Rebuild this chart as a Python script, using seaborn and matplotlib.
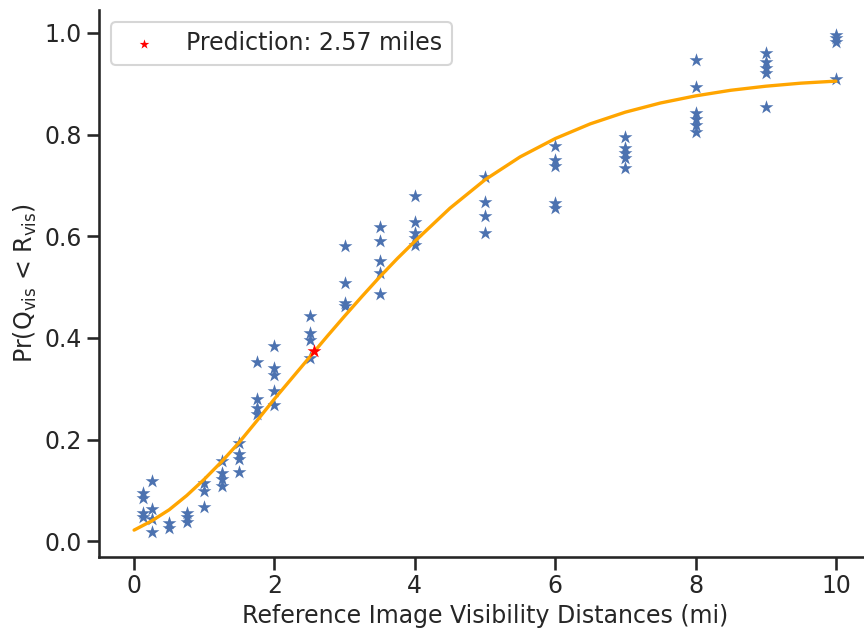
import numpy as np
import pandas as pd
import matplotlib
matplotlib.use("Agg")
import matplotlib.pyplot as plt
import seaborn as sns

# Observed probabilities per reference visibility distance (miles)
dist_0125 = [0.095, 0.085, 0.055, 0.048]
dist_025 = [0.118, 0.063, 0.043, 0.018]
dist_05 = [0.035, 0.027]
dist_075 = [0.055, 0.047, 0.038]
dist_1 = [0.115, 0.099, 0.067]
dist_125 = [0.158, 0.135, 0.122, 0.109]
dist_15 = [0.193, 0.171, 0.161, 0.136]
dist_175 = [0.352, 0.279, 0.263, 0.250]
dist_2 = [0.385, 0.341, 0.328, 0.295, 0.269]
dist_25 = [0.444, 0.410, 0.395, 0.361]
dist_3 = [0.580, 0.508, 0.469, 0.462]
dist_35 = [0.618, 0.591, 0.552, 0.528, 0.487]
dist_4 = [0.680, 0.627, 0.606, 0.597, 0.583]
dist_5 = [0.716, 0.667, 0.640, 0.606]
dist_6 = [0.778, 0.750, 0.739, 0.665, 0.656]
dist_7 = [0.796, 0.773, 0.764, 0.754, 0.734]
dist_8 = [0.946, 0.893, 0.842, 0.830, 0.818, 0.805]
dist_9 = [0.960, 0.942, 0.931, 0.921, 0.855]
dist_10 = [0.996, 0.990, 0.982, 0.910]

distances = [0.125, 0.25, 0.5, 0.75, 1.0, 1.25, 1.5, 1.75, 2.0, 2.5,
             3.0, 3.5, 4.0, 5.0, 6.0, 7.0, 8.0, 9.0, 10.0]
groups = [dist_0125, dist_025, dist_05, dist_075, dist_1, dist_125, dist_15,
          dist_175, dist_2, dist_25, dist_3, dist_35, dist_4, dist_5, dist_6,
          dist_7, dist_8, dist_9, dist_10]

# Fitted curve
curve_x = [0.0, 0.25, 0.5, 0.75, 1.0, 1.25, 1.5, 1.75, 2.0, 2.25, 2.5,
           2.75, 3.0, 3.25, 3.5, 3.75, 4.0, 4.5, 5.0, 5.5, 6.0, 6.5,
           7.0, 7.5, 8.0, 8.5, 9.0, 9.5, 10.0]
curve_y = [0.022, 0.040, 0.062, 0.090, 0.122, 0.157, 0.195, 0.237, 0.280,
           0.321, 0.362, 0.403, 0.443, 0.482, 0.520, 0.556, 0.590, 0.655,
           0.711, 0.756, 0.792, 0.821, 0.844, 0.862, 0.876, 0.887, 0.895,
           0.901, 0.905]

# Predicted point
pred_x = [2.57]
pred_y = [0.374]
pred_label = "Prediction: 2.57 miles"

obs = pd.DataFrame({
    "dist": [d for d, g in zip(distances, groups) for _ in g],
    "prob": [v for g in groups for v in g],
})
fit = pd.DataFrame({"dist": curve_x, "prob": curve_y})
pred = pd.DataFrame({"dist": pred_x, "prob": pred_y})

sns.set_theme(style="ticks", context="talk")
plt.rcParams["xtick.labelsize"] = 17
plt.rcParams["ytick.labelsize"] = 17
plt.rcParams["legend.fontsize"] = 17

fig = plt.figure(figsize=(8.64, 6.31), dpi=100)
ax = fig.add_axes([99 / 864, 74 / 631, 772 / 864, 547 / 631])

sns.scatterplot(data=obs, x="dist", y="prob", marker="*", s=110,
                color="#4C72B0", linewidth=0, ax=ax, zorder=2)
sns.lineplot(data=fit, x="dist", y="prob", color="orange", linewidth=2.4,
             ax=ax, zorder=3)
sns.scatterplot(data=pred, x="dist", y="prob", marker="*", s=110,
                color="red", linewidth=0, ax=ax, zorder=4, label=pred_label)

ax.set_xlim(-0.5, 10.5)
ax.set_xticks([0, 2, 4, 6, 8, 10])
ax.set_yticks([0.0, 0.2, 0.4, 0.6, 0.8, 1.0])
ax.set_xlabel("Reference Image Visibility Distances (mi)", fontsize=17)
ax.set_ylabel(r"Pr(Q$_{\mathrm{vis}}$ < R$_{\mathrm{vis}}$)", fontsize=17)
ax.legend(loc="upper left", markerscale=0.7, handletextpad=0.8)
sns.despine(ax=ax)

fig.savefig("out.png", dpi=100)
